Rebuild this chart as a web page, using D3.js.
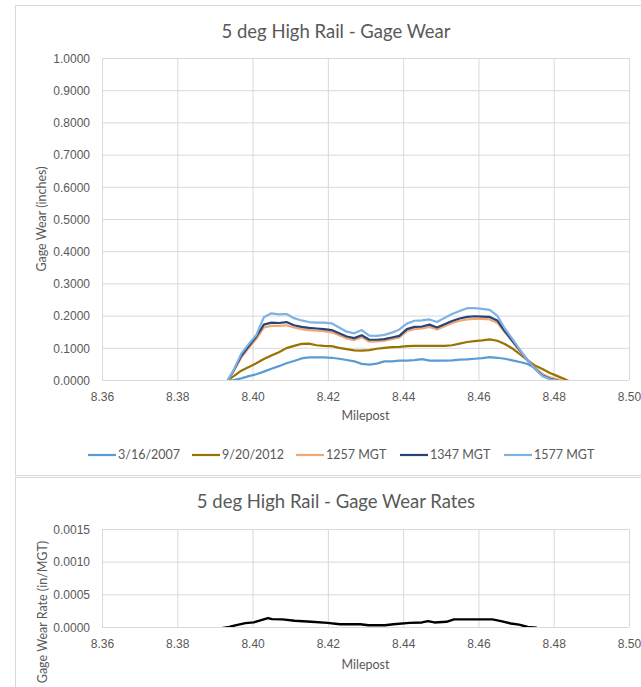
<!DOCTYPE html>
<html>
<head>
<meta charset="utf-8">
<script src="https://cdn.jsdelivr.net/npm/d3@7"></script>
<style>
  body { margin: 0; background: #fff; }
  svg { font-family: Lato, "Open Sans", sans-serif; fill: #595959; }
  .tick text { fill: #595959; font-size: 12px; }
</style>
</head>
<body>
<svg id="chart" width="641" height="687"></svg>
<script>
// milepost samples shared by the gage wear series
const milepost = [8.3935, 8.395, 8.397, 8.399, 8.401, 8.403, 8.405, 8.407, 8.409, 8.411,
  8.413, 8.415, 8.417, 8.419, 8.421, 8.423, 8.425, 8.427, 8.429, 8.431,
  8.433, 8.435, 8.437, 8.439, 8.441, 8.443, 8.445, 8.447, 8.449, 8.451,
  8.453, 8.455, 8.457, 8.459, 8.461, 8.463, 8.465, 8.467, 8.469, 8.471,
  8.473, 8.475, 8.477, 8.479, 8.481, 8.483, 8.4845];

const wear2007 = [-0.003, 0.0, 0.005, 0.012, 0.018, 0.026, 0.035, 0.043, 0.052, 0.059,
  0.067, 0.070, 0.070, 0.070, 0.069, 0.066, 0.062, 0.058, 0.050, 0.048,
  0.051, 0.058, 0.058, 0.060, 0.060, 0.062, 0.065, 0.060, 0.060, 0.060,
  0.061, 0.063, 0.064, 0.066, 0.068, 0.071, 0.069, 0.066, 0.061, 0.056,
  0.050, 0.038, 0.018, 0.006, -0.002, -0.010, -0.015];

const wear2012 = [0, 0.012, 0.029, 0.040, 0.052, 0.065, 0.076, 0.086, 0.099, 0.106,
  0.112, 0.113, 0.108, 0.106, 0.105, 0.100, 0.096, 0.092, 0.091, 0.093,
  0.097, 0.100, 0.102, 0.103, 0.105, 0.106, 0.106, 0.106, 0.106, 0.106,
  0.108, 0.113, 0.118, 0.121, 0.123, 0.126, 0.122, 0.112, 0.098, 0.080,
  0.062, 0.045, 0.034, 0.022, 0.012, 0.002, -0.006];

const wear1257 = [0, 0.028, 0.070, 0.100, 0.128, 0.163, 0.168, 0.168, 0.170, 0.163,
  0.158, 0.155, 0.153, 0.152, 0.148, 0.139, 0.129, 0.124, 0.133, 0.119,
  0.120, 0.122, 0.127, 0.132, 0.152, 0.158, 0.160, 0.165, 0.157, 0.167,
  0.177, 0.184, 0.188, 0.190, 0.190, 0.188, 0.178, 0.148, 0.120, 0.090,
  0.062, 0.038, 0.018, 0.008, 0.002, -0.004, -0.010];

const wear1347 = [0, 0.030, 0.075, 0.105, 0.135, 0.172, 0.178, 0.177, 0.180, 0.170,
  0.165, 0.162, 0.160, 0.158, 0.155, 0.145, 0.135, 0.130, 0.139, 0.125,
  0.125, 0.127, 0.132, 0.137, 0.158, 0.165, 0.166, 0.172, 0.163, 0.173,
  0.183, 0.191, 0.196, 0.198, 0.197, 0.196, 0.185, 0.152, 0.122, 0.092,
  0.062, 0.035, 0.014, 0.004, -0.002, -0.010, -0.015];

const wear1577 = [0, 0.032, 0.082, 0.112, 0.140, 0.195, 0.207, 0.204, 0.205, 0.192,
  0.185, 0.180, 0.178, 0.178, 0.176, 0.163, 0.150, 0.145, 0.155, 0.138,
  0.137, 0.140, 0.147, 0.157, 0.175, 0.184, 0.185, 0.188, 0.180, 0.193,
  0.205, 0.214, 0.223, 0.223, 0.221, 0.218, 0.200, 0.160, 0.128, 0.094,
  0.062, 0.035, 0.012, 0.002, -0.002, -0.010, -0.015];

const seriesNames = ["3/16/2007", "9/20/2012", "1257 MGT", "1347 MGT", "1577 MGT"];
const seriesColors = ["#5B9BD5", "#997300", "#F4A672", "#264478", "#7FB2E3"];

// wear rate series
const rateMilepost = [8.3916, 8.3938, 8.3954, 8.3981, 8.4003, 8.4041, 8.4052, 8.4079, 8.4112, 8.4156,
  8.4199, 8.4232, 8.4286, 8.4308, 8.4352, 8.4374, 8.4417, 8.445, 8.4466, 8.4483,
  8.4515, 8.4535, 8.4637, 8.466, 8.4686, 8.4708, 8.4731, 8.4755];
const rateValues = [-0.00002, 0, 0.000026, 0.00006, 0.00007, 0.000137, 0.00012, 0.000116, 0.000095, 0.00008,
  0.000063, 0.000042, 0.000042, 0.000026, 0.000026, 0.000042, 0.000063, 0.00007, 0.00009, 0.00007,
  0.00008, 0.000116, 0.000116, 0.00009, 0.000053, 0.000037, 0, -0.00001];

const xTicks = [8.36, 8.38, 8.40, 8.42, 8.44, 8.46, 8.48, 8.50];
const wearTicks = [0, 0.1, 0.2, 0.3, 0.4, 0.5, 0.6, 0.7, 0.8, 0.9, 1.0];
const rateTicks = [0, 0.0005, 0.0010, 0.0015];

const svg = d3.select("#chart");
const gridColor = "#d9d9d9";
const textColor = "#595959";

// panel borders
svg.append("rect")
    .attr("x", 15.5).attr("y", 5.5)
    .attr("width", 700).attr("height", 470)
    .attr("fill", "none").attr("stroke", gridColor);
svg.append("rect")
    .attr("x", 15.5).attr("y", 477.5)
    .attr("width", 700).attr("height", 300)
    .attr("fill", "none").attr("stroke", gridColor);

const plotLeft = 102;
const plotRight = 629;

const x = d3.scaleLinear().domain([8.36, 8.50]).range([plotLeft, plotRight]);

function drawPanel(cfg) {
  const y = d3.scaleLinear().domain(cfg.domain).range([cfg.bottom, cfg.top]);
  const g = svg.append("g");

  // clip for lines
  g.append("clipPath").attr("id", cfg.id + "-clip")
    .append("rect")
      .attr("x", plotLeft).attr("y", cfg.top - 2)
      .attr("width", plotRight - plotLeft).attr("height", cfg.bottom - cfg.top + 2);

  // horizontal gridlines via axis
  g.append("g")
      .attr("transform", `translate(${plotLeft},0)`)
      .call(d3.axisLeft(y).tickValues(cfg.yTicks).tickSize(-(plotRight - plotLeft)).tickPadding(12)
        .tickFormat(d3.format(".4f")))
      .call(a => a.select(".domain").remove())
      .call(a => a.selectAll(".tick line").attr("stroke", gridColor))
      .call(a => a.selectAll(".tick text").attr("dy", "0.35em"));

  // vertical gridlines + x labels
  g.append("g")
      .attr("transform", `translate(0,${cfg.bottom})`)
      .call(d3.axisBottom(x).tickValues(xTicks).tickSize(-(cfg.bottom - cfg.top)).tickPadding(12)
        .tickFormat(d3.format(".2f")))
      .call(a => a.select(".domain").remove())
      .call(a => a.selectAll(".tick line").attr("stroke", gridColor));

  // axis baseline
  g.append("line")
      .attr("x1", plotLeft).attr("x2", plotRight)
      .attr("y1", cfg.bottom + 0.5).attr("y2", cfg.bottom + 0.5)
      .attr("stroke", gridColor);

  // title
  g.append("text")
      .attr("x", 336).attr("y", cfg.titleY)
      .attr("text-anchor", "middle")
      .attr("font-size", "18.5px")
      .attr("fill", textColor)
      .text(cfg.title);

  // x title
  g.append("text")
      .attr("x", (plotLeft + plotRight) / 2).attr("y", cfg.xTitleY)
      .attr("text-anchor", "middle")
      .attr("font-size", "12.5px")
      .attr("fill", textColor)
      .text("Milepost");

  // y title
  g.append("text")
      .attr("transform", `translate(${cfg.yTitleX},${cfg.yTitleY}) rotate(-90)`)
      .attr("text-anchor", "middle")
      .attr("font-size", "12.5px")
      .attr("fill", textColor)
      .text(cfg.yTitle);

  const lines = g.append("g").attr("clip-path", `url(#${cfg.id}-clip)`);
  return { y, lines };
}

// ---- top panel: gage wear ----
const wearPanel = drawPanel({
  id: "wear", domain: [0, 1], yTicks: wearTicks, top: 58, bottom: 380,
  title: "5 deg High Rail - Gage Wear", titleY: 38,
  xTitleY: 420, yTitle: "Gage Wear (inches)", yTitleX: 46, yTitleY: 219
});

const wearSeries = [wear2007, wear2012, wear1257, wear1347, wear1577];
const wearLine = d3.line()
    .x((d, i) => x(milepost[i]))
    .y(d => wearPanel.y(d));

wearPanel.lines.selectAll("path")
  .data(wearSeries)
  .join("path")
    .attr("d", wearLine)
    .attr("fill", "none")
    .attr("stroke", (d, i) => seriesColors[i])
    .attr("stroke-width", 2.2)
    .attr("stroke-linejoin", "round");

// legend
const legend = svg.append("g").attr("transform", "translate(88,455)");
const legendItem = legend.selectAll("g")
  .data(seriesNames)
  .join("g")
    .attr("transform", (d, i) => `translate(${i * 104},0)`);
legendItem.append("line")
    .attr("x1", 0).attr("x2", 28)
    .attr("stroke", (d, i) => seriesColors[i])
    .attr("stroke-width", 2.2);
legendItem.append("text")
    .attr("x", 30).attr("dy", "0.35em")
    .attr("font-size", "12.5px")
    .attr("fill", textColor)
    .text(d => d);

// ---- bottom panel: wear rate ----
const ratePanel = drawPanel({
  id: "rate", domain: [0, 0.0015], yTicks: rateTicks, top: 529, bottom: 627,
  title: "5 deg High Rail - Gage Wear Rates", titleY: 508,
  xTitleY: 669, yTitle: "Gage Wear Rate (in/MGT)", yTitleX: 47, yTitleY: 612
});

ratePanel.lines.append("path")
    .datum(rateValues)
    .attr("d", d3.line().x((d, i) => x(rateMilepost[i])).y(d => ratePanel.y(d)))
    .attr("fill", "none")
    .attr("stroke", "#000")
    .attr("stroke-width", 2.4)
    .attr("stroke-linejoin", "round");
</script>
</body>
</html>
